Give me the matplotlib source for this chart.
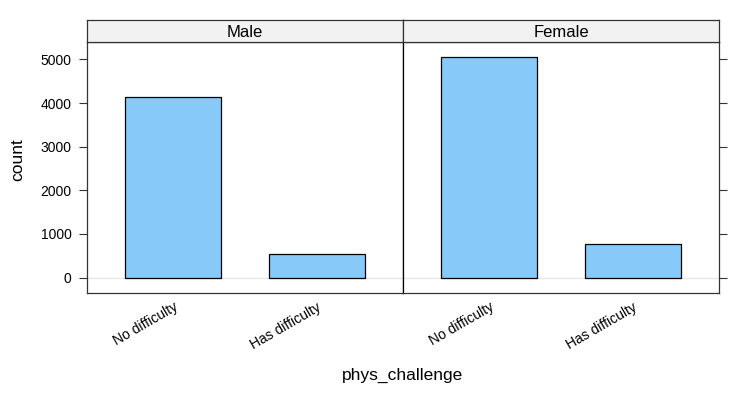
import matplotlib
matplotlib.use("Agg")
import matplotlib.pyplot as plt

plt.rcParams['font.family'] = ['Liberation Sans', 'DejaVu Sans']

# data
panels = ['Male', 'Female']
categories = ['No difficulty', 'Has difficulty']
counts = {
    'Male': [4130, 530],
    'Female': [5050, 780],
}
yticks = [0, 1000, 2000, 3000, 4000, 5000]

W, H = 738, 393
fig = plt.figure(figsize=(W / 100, H / 100), dpi=100)

def px(x0, y0, x1, y1):
    # pixel box -> figure fraction
    return [x0 / W, 1 - y1 / H, (x1 - x0) / W, (y1 - y0) / H]

left, mid, right = 87, 403, 719
top, strip_bot, bot = 20, 42, 293
edge = '#333333'
xpos = [1, 2]

for i, name in enumerate(panels):
    x0 = left if i == 0 else mid
    x1 = mid if i == 0 else right
    ax = fig.add_axes(px(x0, strip_bot, x1, bot))
    ax.axhline(0, color='#e6e6e6', lw=1, zorder=0)
    ax.bar(xpos, counts[name], width=2 / 3, color='#87CAFA',
           edgecolor='black', lw=0.9, zorder=2)
    ax.set_xlim(0.4, 2.6)
    ax.set_ylim(-353, 5400)
    ax.set_xticks(xpos)
    ax.set_xticklabels(categories, rotation=30, ha='right', va='top',
                       rotation_mode='anchor', fontsize=10)
    ax.tick_params(axis='x', length=0, pad=5)
    ax.set_yticks(yticks)
    if i == 0:
        ax.tick_params(axis='y', left=True, right=False, labelleft=True,
                       length=6, width=0.8, labelsize=10, pad=5, color=edge)
    else:
        ax.tick_params(axis='y', left=False, right=True, labelleft=False,
                       length=6, width=0.8, color=edge)
    for s in ax.spines.values():
        s.set_color(edge)
        s.set_linewidth(0.9)
    if i == 0:
        ax.spines['right'].set_color('black')
    else:
        ax.spines['left'].set_color('black')

    # strip on top of the panel
    st = fig.add_axes(px(x0, top, x1, strip_bot))
    st.set_facecolor('#f2f2f2')
    st.set_xticks([])
    st.set_yticks([])
    for s in st.spines.values():
        s.set_color(edge)
        s.set_linewidth(0.9)
    st.text(0.5, 0.45, name, ha='center', va='center', fontsize=12,
            transform=st.transAxes)

fig.text(403 / W, 1 - 375 / H, 'phys_challenge', ha='center', va='center',
         fontsize=12.5)
fig.text(18 / W, 1 - 160 / H, 'count', ha='center', va='center',
         rotation=90, fontsize=12.5)

fig.savefig('out.png', dpi=100)
